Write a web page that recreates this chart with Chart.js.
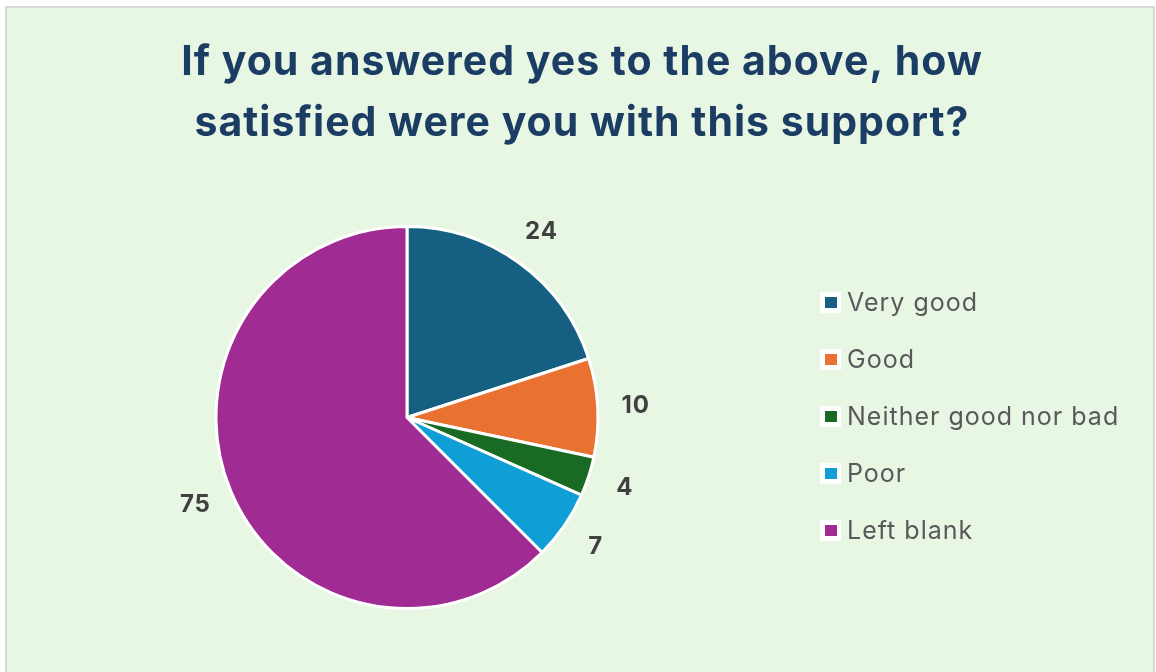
<!DOCTYPE html>
<html>
<head>
<meta charset="utf-8">
<script src="https://cdn.jsdelivr.net/npm/chart.js@4/dist/chart.umd.min.js"></script>
<style>
  html, body { margin: 0; padding: 0; background: #ffffff; }
  #frame {
    position: absolute; left: 5px; top: 6px; width: 1150px; height: 700px;
    box-sizing: border-box; border: 2px solid #d9d9d9; background: #e8f6e4;
  }
  #myChart { position: absolute; left: 0; top: 0; }
</style>
</head>
<body>
<div id="frame"></div>
<canvas id="myChart" width="1156" height="672"></canvas>
<script>
const titleLines = ['If you answered yes to the above, how', 'satisfied were you with this support?'];
const answers = ['Very good', 'Good', 'Neither good nor bad', 'Poor', 'Left blank'];
const counts = [24, 10, 4, 7, 75];
const sliceColours = ['#156082', '#e97132', '#196b24', '#0f9ed5', '#a02b93'];

const FONT = 'Inter, sans-serif';

// two-line heading centred on the whole frame, not on the pie
const heading = {
    id: 'heading',
    afterDraw(chart, args, opts) {
        const ctx = chart.ctx;
        ctx.save();
        ctx.font = 'bold 41px ' + FONT;
        ctx.letterSpacing = '1px';
        ctx.fillStyle = '#1b3d63';
        ctx.textAlign = 'center';
        ctx.textBaseline = 'middle';
        opts.lines.forEach((line, i) => ctx.fillText(line, 582, 63 + i * 61));
        ctx.restore();
    }
};

// value labels just outside each slice
const sliceLabels = {
    id: 'sliceLabels',
    afterDatasetsDraw(chart) {
        const ctx = chart.ctx;
        const ds = chart.data.datasets[0];
        ctx.save();
        ctx.font = 'bold 24px ' + FONT;
        ctx.letterSpacing = '1px';
        ctx.fillStyle = '#404040';
        ctx.textAlign = 'center';
        ctx.textBaseline = 'middle';
        chart.getDatasetMeta(0).data.forEach((arc, i) => {
            const p = arc.getProps(['x', 'y', 'startAngle', 'endAngle', 'outerRadius'], true);
            const mid = (p.startAngle + p.endAngle) / 2;
            const d = p.outerRadius + 38;
            ctx.fillText(String(ds.data[i]), p.x + Math.cos(mid) * d, p.y + Math.sin(mid) * d);
        });
        ctx.restore();
    }
};

// legend column on the right
const sideLegend = {
    id: 'sideLegend',
    afterDraw(chart) {
        const ctx = chart.ctx;
        const ds = chart.data.datasets[0];
        const x = 825, y0 = 302, step = 57;
        ctx.save();
        ctx.font = '25px ' + FONT;
        ctx.letterSpacing = '1px';
        ctx.textBaseline = 'middle';
        chart.data.labels.forEach((label, i) => {
            const y = y0 + i * step;
            ctx.fillStyle = '#ffffff';
            ctx.fillRect(x - 5, y - 10, 21, 21);
            ctx.fillStyle = ds.backgroundColor[i];
            ctx.fillRect(x, y - 5, 12, 11);
            ctx.fillStyle = '#595959';
            ctx.fillText(label, x + 22, y + 1);
        });
        ctx.restore();
    }
};

const ctx = document.getElementById('myChart');
const myChart = new Chart(ctx, {
    type: 'pie',
    data: {
        labels: answers,
        datasets: [{
            data: counts,
            backgroundColor: sliceColours,
            borderColor: '#ffffff',
            borderWidth: 3
        }]
    },
    options: {
        responsive: false,
        animation: false,
        devicePixelRatio: 1,
        radius: 191,
        layout: {
            padding: { left: 207, right: 549, top: 184, bottom: 21 }
        },
        plugins: {
            legend: { display: false },
            tooltip: { enabled: false },
            title: { display: false },
            heading: { lines: titleLines }
        }
    },
    plugins: [heading, sliceLabels, sideLegend]
});
</script>
</body>
</html>
